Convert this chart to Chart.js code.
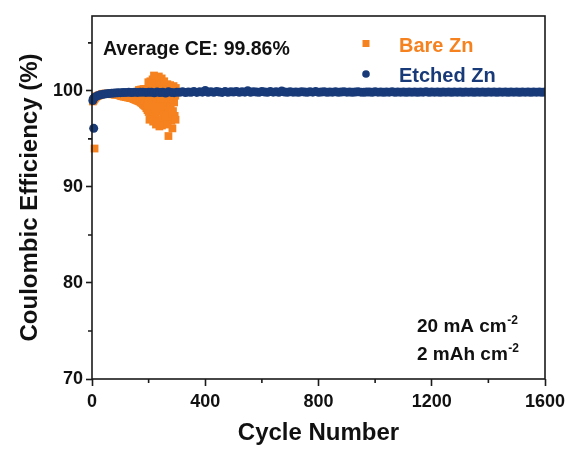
<!DOCTYPE html>
<html>
<head>
<meta charset="utf-8">
<script src="https://cdn.jsdelivr.net/npm/chart.js@4/dist/chart.umd.min.js"></script>
<style>
  html, body { margin: 0; padding: 0; background: #fff; }
  #wrap { width: 571px; height: 450px; position: relative; }
</style>
</head>
<body>
<div id="wrap"><canvas id="ce"></canvas></div>
<script>
// Coulombic efficiency of Zn plating/stripping, 20 mA cm-2 / 2 mAh cm-2
const seriesNames = ['Bare Zn', 'Etched Zn'];

const etchedCycles = [
  6, 3, 5,
  10, 20, 30, 40, 50, 60, 70, 80, 90, 100,
  110, 120, 130, 140, 150, 160, 170, 180, 190, 200,
  210, 220, 230, 240, 250, 260, 270, 280, 290, 300,
  310, 320, 330, 340, 350, 360, 370, 380, 390, 400,
  410, 420, 430, 440, 450, 460, 470, 480, 490, 500,
  510, 520, 530, 540, 550, 560, 570, 580, 590, 600,
  610, 620, 630, 640, 650, 660, 670, 680, 690, 700,
  710, 720, 730, 740, 750, 760, 770, 780, 790, 800,
  810, 820, 830, 840, 850, 860, 870, 880, 890, 900,
  910, 920, 930, 940, 950, 960, 970, 980, 990, 1000,
  1010, 1020, 1030, 1040, 1050, 1060, 1070, 1080, 1090, 1100,
  1110, 1120, 1130, 1140, 1150, 1160, 1170, 1180, 1190, 1200,
  1210, 1220, 1230, 1240, 1250, 1260, 1270, 1280, 1290, 1300,
  1310, 1320, 1330, 1340, 1350, 1360, 1370, 1380, 1390, 1400,
  1410, 1420, 1430, 1440, 1450, 1460, 1470, 1480, 1490, 1500,
  1510, 1520, 1530, 1540, 1550, 1560, 1570, 1580, 1590, 1600
];
const etchedCE = [
  96.1, 99.0, 99.2,
  99.35, 99.50, 99.60, 99.65, 99.70, 99.72, 99.75, 99.78, 99.80, 99.82,
  99.83, 99.84, 99.85, 99.83, 99.86, 99.84, 99.85, 99.87, 99.84, 99.86,
  99.85, 99.80, 99.88, 99.83, 99.86, 99.78, 99.90, 99.84, 99.82, 99.87,
  99.85, 99.92, 99.83, 99.88, 99.86, 99.95, 99.84, 99.90, 99.87, 100.05,
  99.86, 99.92, 99.85, 99.95, 99.88, 99.84, 99.93, 99.86, 99.90, 99.88,
  99.94, 99.85, 99.90, 99.87, 100.02, 99.86, 99.92, 99.88, 99.85, 99.95,
  99.88, 99.86, 99.93, 99.87, 99.90, 99.85, 100.00, 99.88, 99.86, 99.91,
  99.87, 99.89, 99.86, 99.92, 99.88, 99.85, 99.90, 99.87, 99.93, 99.86,
  99.88, 99.90, 99.86, 99.89, 99.87, 99.91, 99.85, 99.88, 99.90, 99.87,
  99.89, 99.86, 99.88, 99.90, 99.87, 99.85, 99.89, 99.88, 99.86, 99.90,
  99.87, 99.88, 99.86, 99.89, 99.87, 99.90, 99.86, 99.88, 99.87, 99.89,
  99.86, 99.88, 99.87, 99.89, 99.86, 99.88, 99.87, 99.90, 99.86, 99.88,
  99.87, 99.89, 99.86, 99.88, 99.87, 99.89, 99.86, 99.88, 99.87, 99.89,
  99.86, 99.88, 99.87, 99.89, 99.86, 99.88, 99.87, 99.89, 99.86, 99.88,
  99.87, 99.89, 99.86, 99.88, 99.87, 99.89, 99.86, 99.88, 99.87, 99.89,
  99.86, 99.88, 99.87, 99.89, 99.86, 99.88, 99.87, 99.89, 99.86, 99.88
];

const bareCycles = [
  9, 3, 5, 7, 10, 12, 15, 18, 22, 26, 30,
  35, 40, 45, 50, 55, 60, 65, 70, 75, 80, 85, 90, 95,
  100, 104, 108, 112, 116, 120, 124, 128, 132, 136, 140, 144, 148,
  152, 156, 160, 164, 168, 172, 176, 180, 184, 188, 192, 196,
  102, 110, 118, 126, 134, 142, 150, 158, 162, 170, 178, 186, 194, 188, 180, 197,
  166, 174, 182, 190,
  198, 200, 202, 204, 206, 208, 210, 212, 214, 216,
  218, 220, 222, 224, 226, 228, 230, 232, 234, 236,
  238, 240, 242, 244, 246, 248, 250, 252, 254, 256,
  258, 260, 262, 264, 266, 268, 270, 272, 274, 276,
  278, 280, 282, 284, 286, 288, 290, 292, 294, 296,
  199, 203, 207, 211, 215, 219, 223, 227, 231, 235,
  239, 243, 247, 251, 255, 259, 263, 267, 271, 275,
  279, 283, 287, 291, 295
];
const bareCE = [
  94.0, 98.9, 99.0, 99.1, 99.2, 99.3, 99.4, 99.45, 99.5, 99.55, 99.6,
  99.65, 99.7, 99.7, 99.72, 99.7, 99.68, 99.7, 99.65, 99.68, 99.6, 99.62, 99.6, 99.58,
  99.5, 99.45, 99.55, 99.4, 99.45, 99.35, 99.4, 99.3, 99.35, 99.25, 99.3, 99.2, 99.15,
  99.1, 99.05, 99.0, 98.95, 98.9, 98.8, 98.75, 98.6, 98.5, 98.4, 98.2, 98.0,
  99.55, 99.45, 99.4, 99.35, 99.3, 99.25, 99.35, 99.3, 99.5, 99.2, 99.1, 99.0, 98.9, 99.4, 99.5, 98.6,
  100.1, 100.15, 100.2, 100.2,
  99.2, 97.8, 100.6, 98.5, 101.0, 97.4, 99.8, 98.0, 101.2, 96.8,
  100.3, 97.3, 99.0, 101.4, 96.5, 98.6, 100.9, 97.8, 99.5, 101.5,
  96.3, 98.2, 100.5, 97.0, 101.3, 99.0, 96.6, 100.8, 97.7, 98.9,
  100.2, 96.8, 99.4, 97.4, 100.7, 98.3, 95.3, 99.8, 97.2, 100.6,
  98.6, 96.9, 100.0, 96.1, 97.9, 100.5, 98.8, 97.4, 99.5, 100.3,
  100.9, 97.0, 99.6, 100.8, 98.4, 101.6, 97.6, 100.0, 96.8, 98.0,
  101.0, 99.2, 96.4, 98.4, 101.0, 97.2, 99.9, 96.5, 98.0, 99.2,
  100.4, 97.6, 99.1, 100.0, 97.0
];

const xTickValues = [0, 400, 800, 1200, 1600];
const xMinorTicks = [200, 600, 1000, 1400];
const yTickValues = [70, 80, 90, 100];
const yMinorTicks = [75, 85, 95, 105];

const averageLabel = 'Average CE: 99.86%';
const conditionLines = [['20 mA cm', '-2'], ['2 mAh cm', '-2']];

const ORANGE = '#F5821F';
const NAVY = '#183A78';
const INK = '#1a1a1a';
const FONT = '"Liberation Sans", Arial, Helvetica, sans-serif';

const toPoints = (xs, ys) => xs.map((c, i) => ({ x: c, y: ys[i] }));

// Box frame, minor ticks, legend and annotations
const framePlugin = {
  id: 'frameAndNotes',
  afterDatasetsDraw(chart) {
    const { ctx, chartArea: { left, right, top, bottom }, scales: { x, y } } = chart;
    ctx.save();
    ctx.strokeStyle = INK;
    ctx.lineWidth = 1.6;
    ctx.strokeRect(left, top, right - left, bottom - top);
    ctx.beginPath();
    xMinorTicks.forEach(v => {
      const px = x.getPixelForValue(v);
      ctx.moveTo(px, bottom);
      ctx.lineTo(px, bottom + 4);
    });
    yMinorTicks.forEach(v => {
      const py = y.getPixelForValue(v);
      ctx.moveTo(left - 4, py);
      ctx.lineTo(left, py);
    });
    ctx.stroke();
    ctx.restore();
  },
  afterDraw(chart) {
    const { ctx, chartArea: { left, top } } = chart;
    ctx.save();
    ctx.textBaseline = 'alphabetic';
    ctx.textAlign = 'left';

    // average efficiency
    ctx.fillStyle = '#111';
    ctx.font = `bold 19.5px ${FONT}`;
    ctx.fillText(averageLabel, left + 11, top + 39);

    // legend
    const mx = left + 274, tx = left + 307;
    ctx.fillStyle = ORANGE;
    ctx.fillRect(mx - 3.5, top + 24, 7, 7);
    ctx.font = `bold 20px ${FONT}`;
    ctx.fillText(seriesNames[0], tx, top + 36);
    ctx.fillStyle = NAVY;
    ctx.beginPath();
    ctx.arc(mx, top + 58, 3.8, 0, Math.PI * 2);
    ctx.fill();
    ctx.fillText(seriesNames[1], tx, top + 66);

    // test conditions
    ctx.fillStyle = '#111';
    const cx = left + 325;
    [top + 316, top + 344].forEach((base, i) => {
      const [main, sup] = conditionLines[i];
      ctx.font = `bold 19px ${FONT}`;
      ctx.fillText(main, cx, base);
      const w = ctx.measureText(main).width;
      ctx.font = `bold 12px ${FONT}`;
      ctx.fillText(sup, cx + w + 0.5, base - 8);
    });
    ctx.restore();
  }
};

const tickFont = { family: FONT, size: 18, weight: 'bold' };
const titleFont = { family: FONT, size: 24, weight: 'bold', lineHeight: 1.2 };

new Chart(document.getElementById('ce'), {
  type: 'scatter',
  data: {
    datasets: [
      {
        label: seriesNames[1],
        data: toPoints(etchedCycles, etchedCE),
        pointStyle: 'circle',
        pointRadius: 4.5,
        pointBorderWidth: 0,
        backgroundColor: NAVY,
        borderColor: NAVY,
        order: 0,
        clip: { left: 5, right: 0, top: 0, bottom: 0 }
      },
      {
        label: seriesNames[0],
        data: toPoints(bareCycles, bareCE),
        pointStyle: 'rect',
        pointRadius: 5.5,
        pointBorderWidth: 0,
        backgroundColor: ORANGE,
        borderColor: ORANGE,
        order: 1,
        clip: { left: 5, right: 0, top: 0, bottom: 0 }
      }
    ]
  },
  options: {
    responsive: true,
    maintainAspectRatio: false,
    devicePixelRatio: 1,
    animation: false,
    layout: { padding: { left: 0, right: 26, top: 16, bottom: 0 } },
    plugins: { legend: { display: false }, tooltip: { enabled: false } },
    scales: {
      x: {
        type: 'linear',
        min: 0,
        max: 1600,
        afterBuildTicks: s => { s.ticks = xTickValues.map(v => ({ value: v })); },
        afterFit: s => { s.height = 71; },
        border: { display: false },
        grid: { display: true, drawOnChartArea: false, drawTicks: true, tickLength: 7, tickColor: INK, tickWidth: 1.6 },
        ticks: { color: '#111', font: tickFont, padding: 5, maxRotation: 0, autoSkip: false, callback: v => String(v) },
        title: { display: true, text: 'Cycle Number', color: '#111', font: titleFont, padding: { top: 0, bottom: 2 } }
      },
      y: {
        type: 'linear',
        min: 70,
        max: 107.8,
        afterBuildTicks: s => { s.ticks = yTickValues.map(v => ({ value: v })); },
        afterFit: s => { s.width = 92; },
        border: { display: false },
        grid: { display: true, drawOnChartArea: false, drawTicks: true, tickLength: 6, tickColor: INK, tickWidth: 1.6 },
        ticks: { color: '#111', font: tickFont, padding: 3, autoSkip: false, callback: v => String(v) },
        title: { display: true, text: 'Coulombic Efficiency (%)', color: '#111', font: titleFont, padding: { top: 16, bottom: 0 } }
      }
    }
  },
  plugins: [framePlugin]
});
</script>
</body>
</html>
